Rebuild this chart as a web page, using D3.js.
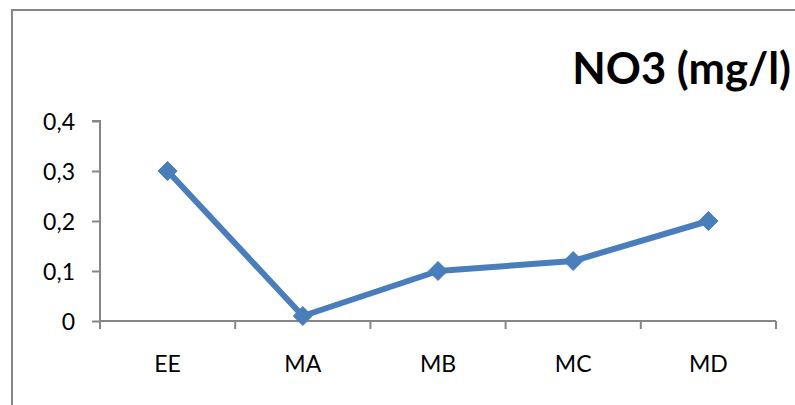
<!DOCTYPE html>
<html>
<head>
<meta charset="utf-8">
<script src="https://cdn.jsdelivr.net/npm/d3@7/dist/d3.min.js"></script>
<style>
  html, body { margin: 0; padding: 0; background: #fff; }
  svg { display: block; }
</style>
</head>
<body>
<script>
// NO3 concentration per sampling point
const categories = ["EE", "MA", "MB", "MC", "MD"];
const values = [0.3, 0.01, 0.1, 0.12, 0.2];
const yTicks = [0, 0.1, 0.2, 0.3, 0.4];
const yTickLabels = ["0", "0,1", "0,2", "0,3", "0,4"];
const title = "NO3 (mg/l)";

const W = 795, H = 405;
const plot = { left: 100, right: 776, top: 121, bottom: 321 };
const font = "Lato, 'Open Sans', sans-serif";
const axisColor = "#868686";
const lineColor = "#4A7EBB";

const svg = d3.select("body").append("svg")
  .attr("width", W).attr("height", H);

// chart frame (runs past the right and bottom edges)
svg.append("rect")
  .attr("x", 12).attr("y", 10)
  .attr("width", W + 20).attr("height", H + 20)
  .attr("fill", "#fff")
  .attr("stroke", axisColor).attr("stroke-width", 2);

const x = d3.scaleBand().domain(categories)
  .range([plot.left, plot.right]).padding(0);
const y = d3.scaleLinear().domain([0, 0.4])
  .range([plot.bottom, plot.top]);

// y axis
const yAxis = d3.axisLeft(y)
  .tickValues(yTicks)
  .tickFormat((d, i) => yTickLabels[i])
  .tickSize(8).tickPadding(17);
const gy = svg.append("g")
  .attr("transform", `translate(${plot.left},0)`)
  .call(yAxis);
gy.select(".domain").attr("stroke", axisColor).attr("stroke-width", 2)
  .attr("d", `M-8,${plot.top}H0V${plot.bottom}`);
gy.selectAll(".tick line").attr("stroke", axisColor).attr("stroke-width", 2);
gy.selectAll(".tick text")
  .attr("font-family", font).attr("font-size", 23).attr("fill", "#000")
  .attr("dy", "0.36em");

// x axis: ticks on category boundaries
const boundaries = categories.map(c => x(c)).concat([plot.right]);
const gx = svg.append("g");
gx.append("line")
  .attr("x1", plot.left).attr("x2", plot.right)
  .attr("y1", y(0)).attr("y2", y(0))
  .attr("stroke", axisColor).attr("stroke-width", 2);
gx.selectAll("line.bt").data(boundaries).join("line")
  .attr("class", "bt")
  .attr("x1", d => d).attr("x2", d => d)
  .attr("y1", y(0)).attr("y2", y(0) + 8)
  .attr("stroke", axisColor).attr("stroke-width", 2);
gx.selectAll("text").data(categories).join("text")
  .attr("x", d => x(d) + x.bandwidth() / 2)
  .attr("y", 372)
  .attr("text-anchor", "middle")
  .attr("font-family", font).attr("font-size", 23).attr("fill", "#000")
  .text(d => d);

// series line
const pts = categories.map((c, i) => [x(c) + x.bandwidth() / 2, y(values[i])]);
svg.append("path")
  .attr("d", d3.line()(pts))
  .attr("fill", "none")
  .attr("stroke", lineColor).attr("stroke-width", 6)
  .attr("stroke-linejoin", "round");

// diamond markers
const diamond = d3.symbol().type(d3.symbolDiamond2).size(230);
svg.selectAll("path.mk").data(pts).join("path")
  .attr("class", "mk")
  .attr("transform", d => `translate(${d[0]},${d[1]})`)
  .attr("d", diamond)
  .attr("fill", lineColor).attr("stroke", lineColor).attr("stroke-width", 1);

// title
svg.append("text")
  .attr("x", 791).attr("y", 84)
  .attr("text-anchor", "end")
  .attr("font-family", font).attr("font-weight", "bold")
  .attr("font-size", 43.5).attr("fill", "#000")
  .text(title);
</script>
</body>
</html>
